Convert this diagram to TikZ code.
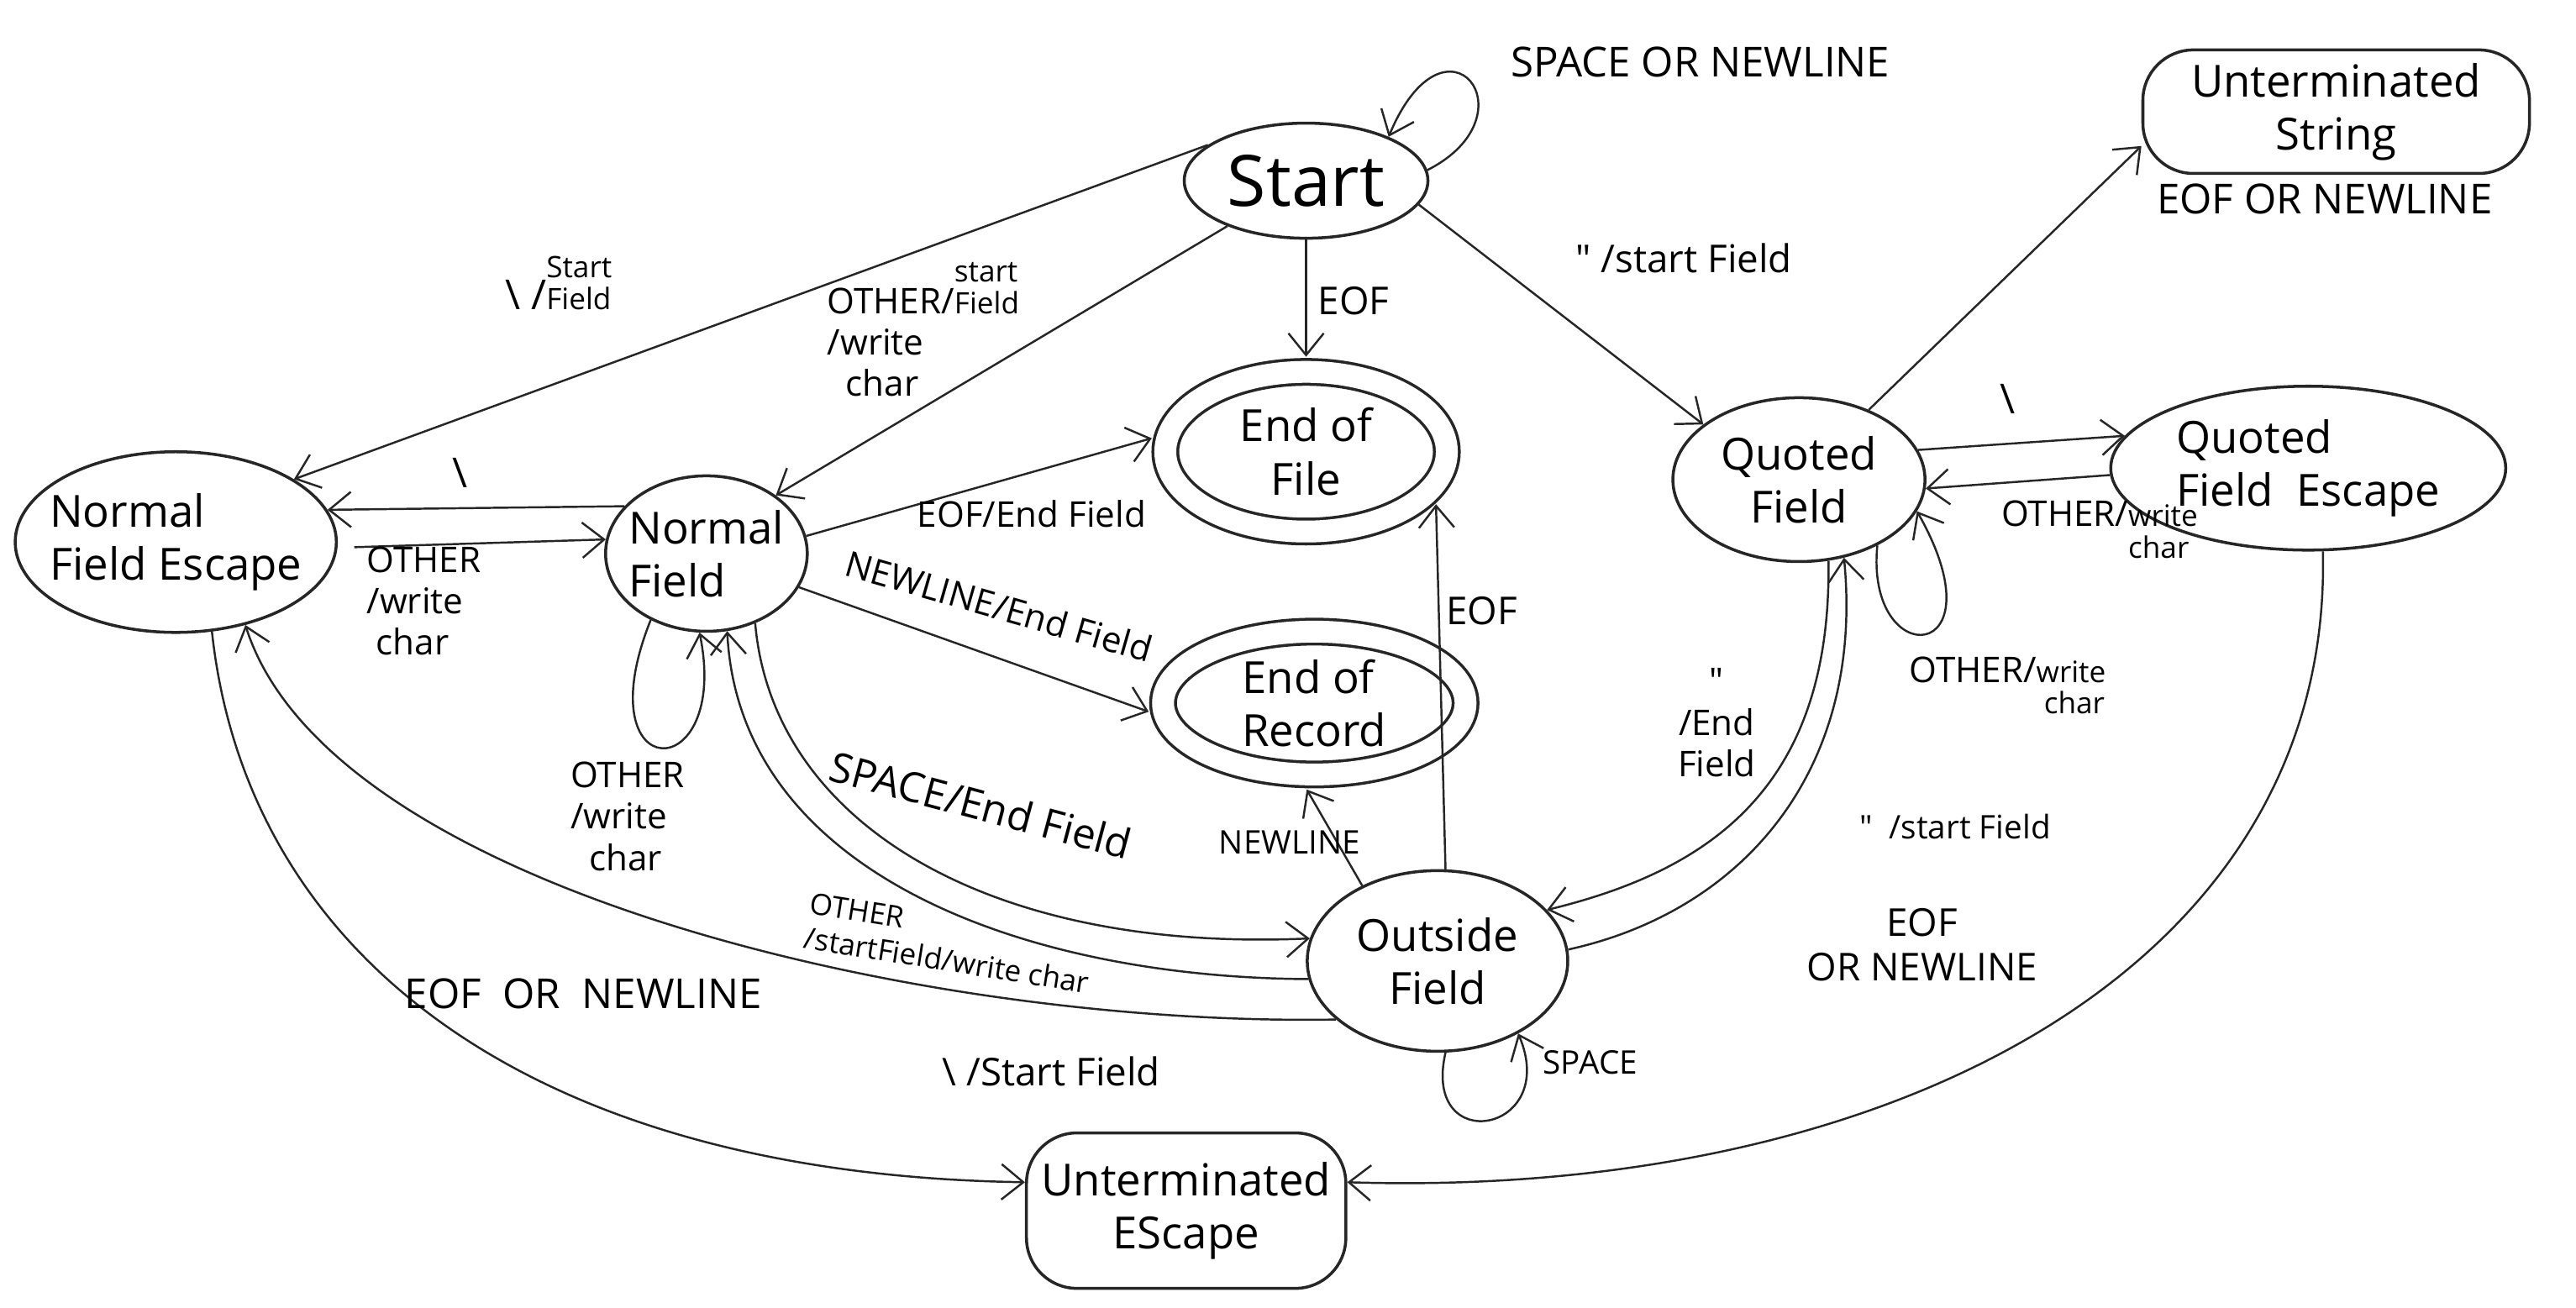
\documentclass[tikz,border=0pt]{standalone}
\usepackage{fontspec}
\setmainfont{Open Sans}
\usetikzlibrary{shapes.geometric,arrows.meta}
\newcommand{\statesize}{\fontsize{15}{18}\selectfont}
\newcommand{\edgesize}{\fontsize{12}{14}\selectfont}
\newcommand{\bigedgesize}{\fontsize{14}{16}\selectfont}
\newcommand{\stk}[3][b]{{\fontsize{10}{10.5}\selectfont\begin{tabular}[#1]{@{}l@{}}#2\\#3\end{tabular}}}
\newcommand{\qq}{\textquotedbl}
\tikzset{
  state/.style={ellipse,draw=black!85,line width=1pt,inner xsep=-1.5mm,inner ysep=-1mm,align=center,font=\statesize},
  final/.style={state,double,double distance=2.6mm,outer sep=1.8mm},
  dead/.style={rectangle,rounded corners=6mm,draw=black!85,line width=1pt,inner sep=0pt,align=center,font=\statesize},
  lbl/.style={inner sep=1pt,align=left,font=\edgesize},
  trans/.style={->,line width=0.7pt,draw=black!85},
}
\begin{document}
\begin{tikzpicture}[x=0.1955mm,y=0.1955mm,>={Straight Barb[length=2.6mm,width=4.2mm]}]
\useasboundingbox (0,0) rectangle (1568,-796);

% states
\node[state,minimum width=29mm,minimum height=13.7mm,font=\fontsize{24}{26}\selectfont] (start) at (795,-110) {Start};
\node[dead,minimum width=46mm,minimum height=14.7mm] (ustr) at (1422,-68) {Unterminated\\String};
\node[final,minimum width=33.5mm,minimum height=19mm] (eof) at (795,-275) {End of\\File};
\node[state,minimum width=30mm,minimum height=19.5mm] (qf) at (1095,-292) {Quoted\\Field};
\node[state,minimum width=47mm,minimum height=19.5mm,align=left] (qfe) at (1405,-285) {Quoted\\Field\ \ Escape};
\node[state,minimum width=36mm,minimum height=21.5mm,align=left] (nfe) at (107,-330) {Normal\\Field Escape};
\node[state,minimum width=24mm,minimum height=18.5mm,align=left] (nf) at (430,-337) {Normal\\Field};
\node[final,minimum width=36mm,minimum height=17mm,align=left] (eor) at (800,-428) {End of\\Record};
\node[state,minimum width=31mm,minimum height=21.5mm] (of) at (875,-585) {Outside\\Field};
\node[dead,minimum width=38mm,minimum height=18.5mm] (uesc) at (722,-737) {Unterminated\\EScape};

% leaving Start
\draw[trans] (start.5) .. controls (935,-70) and (880,0) .. (start.28);
\draw[trans] (start) -- (eof);
\draw[trans] (start.-12) -- (qf.150);
\draw[trans] (start.-150) -- (nf.40);
\draw[trans] (start.160) -- (nfe.28);

% quoted field side
\draw[trans] (qf.45) -- (ustr.190);
\draw[trans] (qf.14) -- (qfe.170);
\draw[trans] (qfe.182) -- (qf.-4);
\draw[trans] (qf.-40) .. controls (1135,-410) and (1220,-405) .. (qf.-15);
\draw[trans] (qf.-70) .. controls (1115,-480) and (1040,-530) .. (of.25);
\draw[trans] (of.5) .. controls (1060,-555) and (1135,-470) .. (qf.-60);
\draw[trans] (qfe.-80) .. controls (1420,-590) and (1150,-730) .. (uesc.10);

% normal field side
\draw[trans] (nf.10) -- (eof.175);
\draw[trans] (nf.-20) -- (eor.183);
\draw[trans] (nf.150) -- (nfe.12);
\draw[trans,shorten <=2mm] (nfe.-2) -- (nf.172);
\draw[trans] (nf.-130) .. controls (355,-480) and (445,-480) .. (nf.-95);
\draw[trans] (nf.-55) .. controls (470,-500) and (600,-580) .. (of.170);
\draw[trans] (of.188) .. controls (620,-595) and (450,-530) .. (nf.-75);
\draw[trans] (of.210) .. controls (560,-625) and (200,-540) .. (nfe.-50);
\draw[trans] (nfe.-68) .. controls (150,-580) and (320,-715) .. (uesc.170);

% outside field
\draw[trans] (of.135) -- (eor.-95);
\draw[trans] (of.85) -- (eof.-22);
\draw[trans] (of.-85) .. controls (865,-705) and (950,-690) .. (of.-42);

% labels
\node[lbl,font=\bigedgesize] (lSpNl) at (1035,-38) {SPACE OR NEWLINE};
\node[lbl,font=\fontsize{13}{15}\selectfont] (lEofA) at (824,-183) {EOF};
\node[lbl,font=\fontsize{13}{15}\selectfont] (lQtA) at (1025,-157) {\qq\ /start Field};
\node[lbl] (lOthA) at (562,-200) {OTHER/\stk{start}{Field}\\/write\\\ \ char};
\node[lbl,font=\bigedgesize] (lBsA) at (340,-175) {\textbackslash\ /\stk{Start}{Field}};
\node[lbl,font=\bigedgesize] (lEofNlA) at (1415,-121) {EOF OR NEWLINE};
\node[lbl,font=\bigedgesize] (lBsB) at (1222,-243) {\textbackslash};
\node[lbl] (lOthB) at (1278,-325) {OTHER/\stk[t]{write}{char}};
\node[lbl] (lOthC) at (1222,-420) {OTHER/\stk[t]{write}{\ char}};
\node[lbl,align=center] (lQtB) at (1045,-440) {\qq\\/End\\Field};
\node[lbl,font=\fontsize{11}{13}\selectfont] (lQtC) at (1190,-503) {\qq\ \ /start Field};
\node[lbl,align=center,font=\fontsize{13}{15}\selectfont] (lEofNlB) at (1170,-575) {EOF\\OR NEWLINE};
\node[lbl] (lEofEf) at (628,-313) {EOF/End Field};
\node[lbl,rotate=-16] (lNlEf) at (608,-369) {NEWLINE/End Field};
\node[lbl,font=\bigedgesize] (lBsC) at (280,-288) {\textbackslash};
\node[lbl] (lOthD) at (258,-366) {OTHER\\/write\\\ char};
\node[lbl] (lOthE) at (382,-497) {OTHER\\/write\\\ \ char};
\node[lbl,rotate=-15,font=\bigedgesize] (lSpEf) at (597,-490) {SPACE/End Field};
\node[lbl,rotate=-9,font=\fontsize{10}{12}\selectfont] (lOthF) at (578,-574) {OTHER\\/startField/write char};
\node[lbl,font=\fontsize{11}{13}\selectfont] (lNl) at (785,-513) {NEWLINE};
\node[lbl,font=\fontsize{13}{15}\selectfont] (lEofB) at (902,-372) {EOF};
\node[lbl,font=\fontsize{11}{13}\selectfont] (lSp) at (968,-647) {SPACE};
\node[lbl,font=\bigedgesize] (lEofNlC) at (355,-605) {EOF\ \ OR\ \ NEWLINE};
\node[lbl,font=\fontsize{13}{15}\selectfont] (lBsD) at (640,-652) {\textbackslash\ /Start Field};
\end{tikzpicture}
\end{document}
